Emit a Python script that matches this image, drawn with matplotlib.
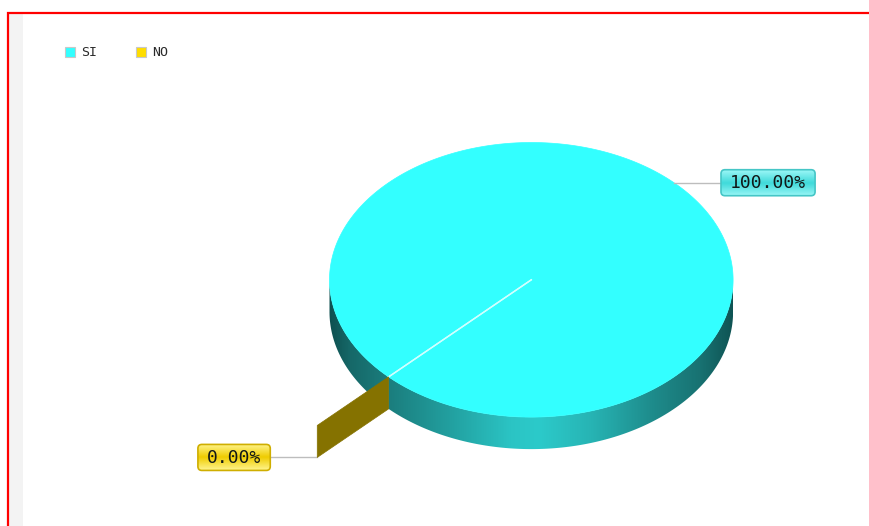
import numpy as np
import matplotlib
matplotlib.use("Agg")
import matplotlib.pyplot as plt
from matplotlib.patches import Polygon, Rectangle, FancyBboxPatch
from matplotlib.colors import LinearSegmentedColormap

# ---- data -------------------------------------------------------------
categories = ["SI", "NO"]
values = [100.0, 0.0]
top_colors = ["#33FFFF", "#FFDD00"]
wall_colors = ["#1f8f8f", "#857200"]
label_fills = [("#9af6f6", "#3fdada"), ("#fff48a", "#efcc00")]
label_edges = ["#45c6c6", "#cfae00"]

# ---- canvas -----------------------------------------------------------
W, H = 869, 526
fig = plt.figure(figsize=(W / 100, H / 100), dpi=100)
ax = fig.add_axes([0, 0, 1, 1])
ax.set_xlim(0, W)
ax.set_ylim(H, 0)
ax.axis("off")

ax.add_patch(Rectangle((9, 13), 14, H, fc="#f3f3f3", ec="none", zorder=0))
ax.plot([8, 8, W + 5], [H + 5, 13, 13], color="red", lw=1.6,
        solid_joinstyle="miter", zorder=1)

# ---- legend -----------------------------------------------------------
leg_x, leg_y, leg_step = 65, 52, 71
for i, (name, col) in enumerate(zip(categories, top_colors)):
    x0 = leg_x + i * leg_step
    ax.add_patch(Rectangle((x0, leg_y - 5), 10, 10, fc=col, ec="#c8c8c8",
                           lw=0.8, zorder=3))
    ax.text(x0 + 16, leg_y, name, ha="left", va="center", fontsize=9.5,
            family="DejaVu Sans Mono", color="#2a2a2a", zorder=3)

# ---- 3D pie -----------------------------------------------------------
cx, cy, a, b, depth = 531.3, 279.8, 201.8, 137.3, 32
start_angle = 225.0
total = sum(values)
spans = [v / total * 360.0 for v in values]
starts = start_angle + np.concatenate([[0], np.cumsum(spans)[:-1]])


def pt(theta, r=1.0, dz=0.0):
    t = np.deg2rad(theta)
    return cx + r * a * np.cos(t), cy - r * b * np.sin(t) + dz


side_cmap = LinearSegmentedColormap.from_list("side", [
    (0.00, "#0e5050"), (0.05, "#166868"), (0.15, "#1b7e7e"),
    (0.30, "#22a0a0"), (0.45, "#2bc4c4"), (0.52, "#2ccaca"),
    (0.65, "#27b4b4"), (0.80, "#1e8c8c"), (0.92, "#187272"),
    (1.00, "#0f5454")])
grad = np.linspace(0, 1, 512)[None, :]

# side walls of each slice, restricted to the front half (180..360 deg)
for s0, sp, col in zip(starts, spans, top_colors):
    if sp <= 0:
        continue
    s1 = s0 + sp
    for k in range(-1, 3):
        lo, hi = max(s0, 180 + 360 * k), min(s1, 360 + 360 * k)
        if hi <= lo:
            continue
        th = np.linspace(lo, hi, 200)
        xt, yt = pt(th)
        xb, yb = pt(th[::-1], dz=depth)
        poly = Polygon(np.column_stack([np.r_[xt, xb], np.r_[yt, yb]]),
                       closed=True, fc="none", ec="none")
        ax.add_patch(poly)
        im = ax.imshow(grad, cmap=side_cmap, aspect="auto",
                       extent=(cx - a, cx + a, cy + b + depth + 2, cy - 2),
                       zorder=2, interpolation="bilinear")
        im.set_clip_path(poly)

# top faces
for s0, sp, col in zip(starts, spans, top_colors):
    if sp <= 0:
        continue
    th = np.linspace(s0, s0 + sp, 400)
    xs, ys = pt(th)
    pts = np.column_stack([np.r_[cx, xs, cx], np.r_[cy, ys, cy]])
    ax.add_patch(Polygon(pts, closed=True, fc=col, ec=col, lw=0.5,
                         zorder=3))

# slice boundaries on the top face
for s0 in starts:
    x1, y1 = pt(s0)
    ax.plot([cx, x1], [cy, y1], color="#d2ffff", lw=1.0, zorder=4)

# exploded empty slices appear as a single radial wall
explode = 0.5
for s0, sp, col, wcol in zip(starts, spans, top_colors, wall_colors):
    if sp > 0:
        continue
    xi, yi = pt(s0, 1.0)
    xo, yo = pt(s0, 1.0 + explode)
    wall = [(xi, yi), (xo, yo), (xo, yo + depth), (xi, yi + depth)]
    ax.add_patch(Polygon(wall, closed=True, fc=wcol, ec=wcol, lw=0.5,
                         zorder=5))

# ---- percentage labels -----------------------------------------------
fs = 13
char_w = 0.602 * fs * 100 / 72
lead = 47
for s0, sp, fills, edge in zip(starts, spans, label_fills, label_edges):
    mid = s0 + sp / 2
    text = f"{sp / 3.6:.2f}%"
    if sp > 0:
        ax_, ay_ = pt(mid, 1.0)
    else:
        ax_, ay_ = pt(mid, 1.0 + explode, dz=depth)
    right = np.cos(np.deg2rad(mid)) >= 0
    bw = len(text) * char_w + 18
    bh = 26
    x_end = ax_ + lead if right else ax_ - lead
    ax.plot([ax_, x_end], [ay_, ay_], color="#bdbdbd", lw=1.0, zorder=4)
    bx = x_end if right else x_end - bw
    box = FancyBboxPatch((bx, ay_ - bh / 2), bw, bh,
                         boxstyle="round,pad=0,rounding_size=4",
                         fc="none", ec=edge, lw=1.2, zorder=7)
    ax.add_patch(box)
    bg = LinearSegmentedColormap.from_list("lbl", [fills[0], fills[1],
                                                    fills[0]])
    im = ax.imshow(np.linspace(0, 1, 64)[:, None], cmap=bg, aspect="auto",
                   extent=(bx, bx + bw, ay_ + bh / 2, ay_ - bh / 2),
                   zorder=6, interpolation="bilinear")
    im.set_clip_path(box)
    ax.text(bx + bw / 2, ay_ + 0.5, text, ha="center", va="center",
            fontsize=fs, family="DejaVu Sans Mono", color="#111818",
            zorder=8)

fig.savefig("out.png", dpi=100)
